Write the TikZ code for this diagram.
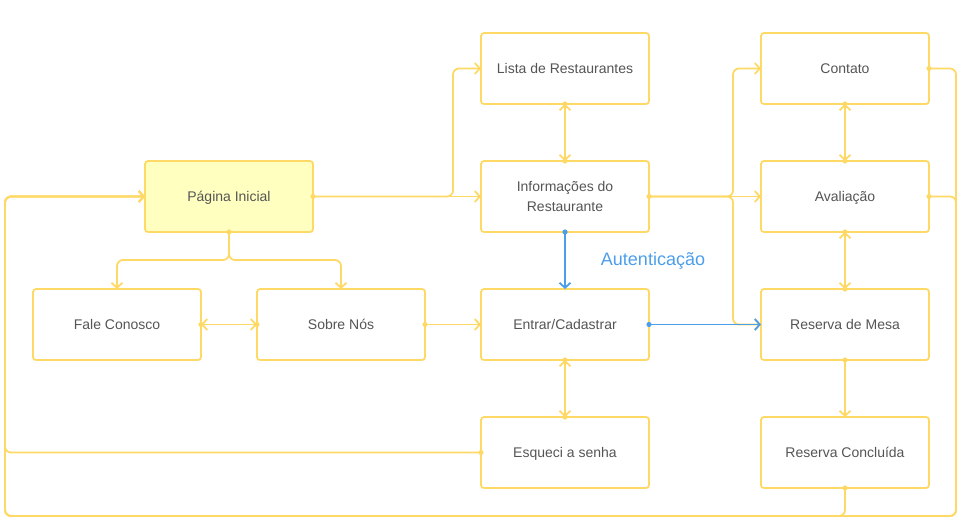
\documentclass[tikz,border=0pt]{standalone}
\usepackage{fontspec}
\setmainfont{Liberation Sans}
\usetikzlibrary{arrows.meta,calc}
\definecolor{ylw}{HTML}{FFD966}
\definecolor{pagfill}{HTML}{FFFFC0}
\definecolor{txt}{HTML}{555555}
\definecolor{blu}{HTML}{4C9EEB}
\tikzset{
  box/.style={draw=ylw, line width=1.8pt, rounded corners=3pt, fill=white,
    minimum width=168pt, minimum height=71pt, inner sep=0pt, outer sep=0pt,
    text=txt, font=\fontsize{14}{20}\selectfont, align=center, text depth=0pt},
  conn/.style={draw=ylw, line width=1.8pt, rounded corners=6pt},
  bconn/.style={draw=blu, line width=1.8pt},
  tipend/.style={-{Straight Barb[length=5pt,width=11pt]}},
  tipboth/.style={{Straight Barb[length=5pt,width=11pt]}-{Straight Barb[length=5pt,width=11pt]}},
  ydot/.style={fill=ylw},
  bdot/.style={fill=blu}
}
\begin{document}
\begin{tikzpicture}[x=1pt,y=-1pt]
\useasboundingbox (0,0) rectangle (962,522);
% nodes
\node[box, fill=pagfill] (pag) at (229,196.5) {Página Inicial};
\node[box] (fale) at (117,324.5) {Fale Conosco};
\node[box] (sobre) at (341,324.5) {Sobre Nós};
\node[box] (lista) at (565,68.5) {Lista de Restaurantes};
\node[box] (info) at (565,196.5) {Informações do\\Restaurante};
\node[box] (entrar) at (565,324.5) {Entrar/Cadastrar};
\node[box] (esq) at (565,452.5) {Esqueci a senha};
\node[box] (contato) at (845,68.5) {Contato};
\node[box] (aval) at (845,196.5) {Avaliação};
\node[box] (mesa) at (845,324.5) {Reserva de Mesa};
\node[box] (concl) at (845,452.5) {Reserva Concluída};
\node[text=blu, font=\fontsize{18}{20}\selectfont] (aut) at (653,261) {Autenticação};
% coordinates for the loop back to Página Inicial
\coordinate (rtop) at (956,68.5);
\coordinate (rmid) at (956,196.5);
\coordinate (rbot) at (956,516);
\coordinate (lbot) at (5,516);
\coordinate (lesq) at (5,452.5);
\coordinate (ltop) at (5,196.5);
% yellow connectors
\draw[conn,tipend] (pag.east) -| ([xshift=-28pt]lista.west) -- (lista.west);
\draw[conn,tipend] (pag.east) -- (info.west);
\draw[conn,tipend] (pag.south) -- ++(0,28) -| (fale.north);
\draw[conn,tipend] (pag.south) -- ++(0,28) -| (sobre.north);
\draw[conn,tipboth] (fale.east) -- (sobre.west);
\draw[conn,tipend] (sobre.east) -- (entrar.west);
\draw[conn,tipboth] (lista.south) -- (info.north);
\draw[conn,tipboth] (entrar.south) -- (esq.north);
\draw[conn,tipend] (info.east) -| ([xshift=-28pt]contato.west) -- (contato.west);
\draw[conn,tipend] (info.east) -- (aval.west);
\draw[conn,tipend] (info.east) -| ([xshift=-28pt]mesa.west) -- (mesa.west);
\draw[conn,tipboth] (contato.south) -- (aval.north);
\draw[conn,tipboth] (aval.south) -- (mesa.north);
\draw[conn,tipend] (mesa.south) -- (concl.north);
\draw[conn,tipend] (contato.east) -- (rtop) -- (rbot) -- (lbot) -- (ltop) -- (pag.west);
\draw[conn,tipend] (aval.east) -- (rmid) -- (rbot) -- (lbot) -- (ltop) -- (pag.west);
\draw[conn,tipend] (concl.south) -- (concl.south |- lbot) -- (lbot) -- (ltop) -- (pag.west);
\draw[conn,tipend] (esq.west) -- (lesq) -- (ltop) -- (pag.west);
% blue connectors
\draw[bconn,tipend] (info.south) -- (entrar.north);
\draw[bconn,tipend] (entrar.east) -- (mesa.west);
% dots
\foreach \p in {pag.east, pag.south, fale.east, sobre.west, sobre.east,
  lista.south, info.north, entrar.south, esq.north, info.east,
  contato.south, aval.north, aval.south, mesa.north, mesa.south,
  contato.east, aval.east, concl.south, esq.west}
  \fill[ydot] (\p) circle (2.6pt);
\fill[bdot] (info.south) circle (2.6pt);
\fill[bdot] (entrar.east) circle (2.6pt);
\end{tikzpicture}
\end{document}
